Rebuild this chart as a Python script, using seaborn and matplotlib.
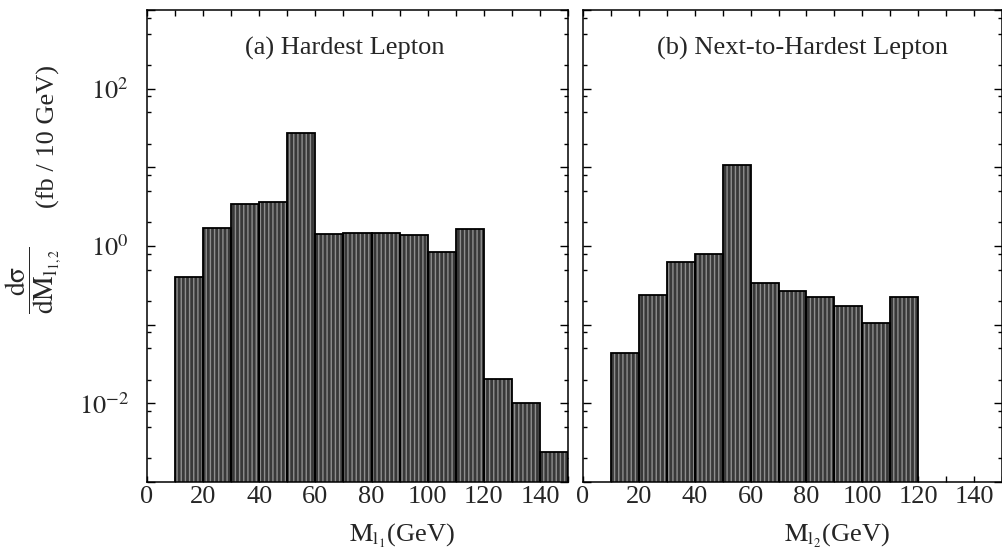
import numpy as np
import pandas as pd
import matplotlib
matplotlib.use('Agg')
import matplotlib.pyplot as plt
import seaborn as sns
from matplotlib.ticker import FixedLocator, LogLocator, MultipleLocator, FuncFormatter, NullFormatter

# bin lower edges (GeV) and cross sections (fb / 10 GeV)
bins_hard = [10, 20, 30, 40, 50, 60, 70, 80, 90, 100, 110, 120, 130, 140]
xsec_hard = [0.40, 1.68, 3.44, 3.65, 27.0, 1.41, 1.48, 1.45, 1.37, 0.83, 1.63, 0.0205, 0.0100, 0.0024]

bins_next = [10, 20, 30, 40, 50, 60, 70, 80, 90, 100, 110]
xsec_next = [0.0434, 0.237, 0.632, 0.785, 10.8, 0.342, 0.266, 0.227, 0.175, 0.105, 0.224]

panel_titles = ['(a) Hardest Lepton', '(b) Next-to-Hardest Lepton']
x_labels = [r'$\mathrm{M}_{\mathrm{l}_1}$(GeV)', r'$\mathrm{M}_{\mathrm{l}_2}$(GeV)']
x_ticks = [0, 20, 40, 60, 80, 100, 120, 140]

sns.set_theme(style='ticks')
plt.rcParams['font.family'] = ['Liberation Serif', 'DejaVu Serif']
plt.rcParams['mathtext.fontset'] = 'stix'
plt.rcParams['hatch.linewidth'] = 1.0
plt.rcParams['axes.linewidth'] = 1.1

FS = 19

fig = plt.figure(figsize=(10.03, 5.54), dpi=100)
ax1 = fig.add_axes([0.1466, 0.13, 0.4197, 0.852])
ax2 = fig.add_axes([0.5813, 0.13, 0.4177, 0.852])


def log_label(v, pos):
    e = int(round(np.log10(v)))
    if e in (-2, 0, 2):
        return r'$10^{%d}$' % e
    return ''


for ax, lo, vals, title, tx, xl in zip([ax1, ax2], [bins_hard, bins_next], [xsec_hard, xsec_next],
                                       panel_titles, [0.47, 0.523], x_labels):
    df = pd.DataFrame({'m': np.array(lo) + 5, 'xsec': vals})
    edges = list(lo) + [lo[-1] + 10]
    n0 = len(ax.patches)
    sns.histplot(data=df, x='m', weights='xsec', bins=edges, ax=ax, stat='count',
                 alpha=1, linewidth=0)
    for p in ax.patches[n0:]:
        p.set_facecolor('#383838')
        p.set_edgecolor('#8e8e8e')
        p.set_hatch('||||')
        p.set_linewidth(0)
    # black outlines
    sns.histplot(data=df, x='m', weights='xsec', bins=edges, ax=ax, stat='count',
                 fill=False, color='black', linewidth=1.3)

    ax.set_yscale('log')
    ax.set_ylim(1e-3, 1e3)
    ax.set_xlim(0, 150)
    ax.xaxis.set_major_locator(FixedLocator(x_ticks))
    ax.xaxis.set_minor_locator(MultipleLocator(10))
    ax.yaxis.set_major_locator(FixedLocator([1e-3, 1e-2, 1e-1, 1e0, 1e1, 1e2, 1e3]))
    ax.yaxis.set_minor_locator(LogLocator(base=10, subs=[2, 5, 8], numticks=20))
    ax.yaxis.set_major_formatter(FuncFormatter(log_label))
    ax.yaxis.set_minor_formatter(NullFormatter())
    ax.tick_params(which='both', direction='in', top=True, right=True, labelsize=FS,
                   width=1.0, color='black')
    ax.tick_params(axis='x', which='both', length=4.5, pad=3)
    ax.tick_params(axis='y', which='major', length=6, pad=13)
    ax.tick_params(axis='y', which='minor', length=3)
    ax.set_xlabel(xl, fontsize=FS)
    ax.xaxis.set_label_coords(0.605, -0.085)
    ax.set_ylabel('')
    ax.text(tx, 0.918, title, transform=ax.transAxes, ha='center', va='center', fontsize=FS)
    for s in ax.spines.values():
        s.set_visible(True)
        s.set_color('black')

ax2.tick_params(axis='y', labelleft=False)

# y axis title: fraction and units as two rotated pieces
fig.text(0.034, 0.495, r'$\dfrac{\mathrm{dσ}}{\mathrm{dM}_{\mathrm{l}_{1,2}}}$', rotation=90,
         ha='center', va='center', fontsize=FS + 1)
fig.text(0.048, 0.753, '(fb / 10 GeV)', rotation=90, ha='center', va='center', fontsize=FS)

fig.savefig('out.png', dpi=100)
